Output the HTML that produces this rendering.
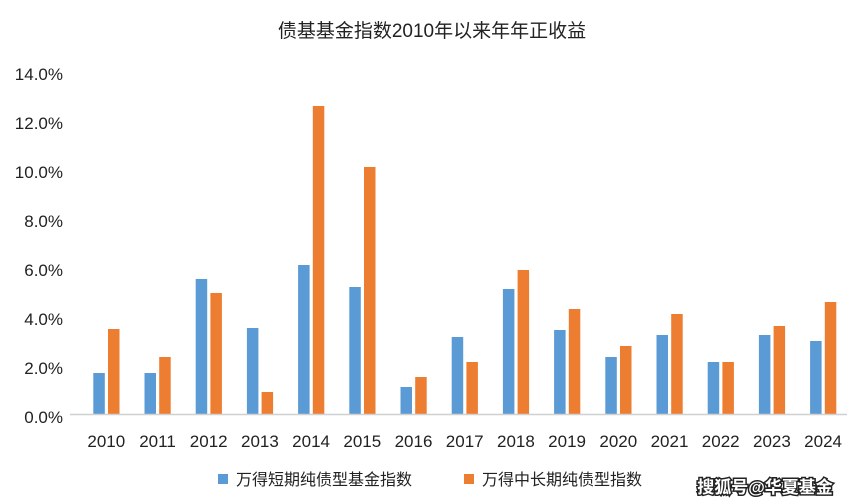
<!DOCTYPE html><html><head><meta charset="utf-8"><style>body{margin:0;background:#fff}svg{display:block}text{font-family:"Liberation Sans","Noto Sans CJK SC",sans-serif}</style></head><body>
<svg width="852" height="504" xmlns="http://www.w3.org/2000/svg">
<text x="432" y="37" font-size="19" text-anchor="middle" fill="#222">债基基金指数2010年以来年年正收益</text>
<g font-size="17" fill="#222" text-anchor="end">
<text x="63" y="80">14.0%</text><text x="63" y="129">12.0%</text><text x="63" y="178">10.0%</text><text x="63" y="227">8.0%</text><text x="63" y="276">6.0%</text><text x="63" y="325">4.0%</text><text x="63" y="374">2.0%</text><text x="63" y="423">0.0%</text>
</g>
<g fill="#5B9BD5">
<rect x="93.3" y="373" width="11.5" height="41"/>
<rect x="144.5" y="373" width="11.5" height="41"/>
<rect x="195.7" y="279" width="11.5" height="135"/>
<rect x="246.9" y="328" width="11.5" height="86"/>
<rect x="298.1" y="265" width="11.5" height="149"/>
<rect x="349.3" y="287" width="11.5" height="127"/>
<rect x="400.5" y="387" width="11.5" height="27"/>
<rect x="451.7" y="337" width="11.5" height="77"/>
<rect x="502.9" y="289" width="11.5" height="125"/>
<rect x="554.1" y="330" width="11.5" height="84"/>
<rect x="605.3" y="357" width="11.5" height="57"/>
<rect x="656.5" y="335" width="11.5" height="79"/>
<rect x="707.7" y="362" width="11.5" height="52"/>
<rect x="758.9" y="335" width="11.5" height="79"/>
<rect x="810.1" y="341" width="11.5" height="73"/>
</g>
<g fill="#ED7D31">
<rect x="108.0" y="329" width="11.5" height="85"/>
<rect x="159.2" y="357" width="11.5" height="57"/>
<rect x="210.4" y="293" width="11.5" height="121"/>
<rect x="261.6" y="392" width="11.5" height="22"/>
<rect x="312.8" y="106" width="11.5" height="308"/>
<rect x="364.0" y="167" width="11.5" height="247"/>
<rect x="415.2" y="377" width="11.5" height="37"/>
<rect x="466.4" y="362" width="11.5" height="52"/>
<rect x="517.6" y="270" width="11.5" height="144"/>
<rect x="568.8" y="309" width="11.5" height="105"/>
<rect x="620.0" y="346" width="11.5" height="68"/>
<rect x="671.2" y="314" width="11.5" height="100"/>
<rect x="722.4" y="362" width="11.5" height="52"/>
<rect x="773.6" y="326" width="11.5" height="88"/>
<rect x="824.8" y="302" width="11.5" height="112"/>
</g>
<line x1="70" y1="414.5" x2="847" y2="414.5" stroke="#d0d0d0" stroke-width="1.5"/>
<g font-size="17" fill="#222" text-anchor="middle">
<text x="106.3" y="447">2010</text><text x="157.5" y="447">2011</text><text x="208.7" y="447">2012</text><text x="259.9" y="447">2013</text><text x="311.1" y="447">2014</text><text x="362.3" y="447">2015</text><text x="413.5" y="447">2016</text><text x="464.7" y="447">2017</text><text x="515.9" y="447">2018</text><text x="567.1" y="447">2019</text><text x="618.3" y="447">2020</text><text x="669.5" y="447">2021</text><text x="720.7" y="447">2022</text><text x="771.9" y="447">2023</text><text x="823.1" y="447">2024</text>
</g>
<rect x="218" y="474" width="10" height="10" fill="#5B9BD5"/>
<text x="236" y="485" font-size="16" fill="#222">万得短期纯债型基金指数</text>
<rect x="464" y="474" width="10" height="10" fill="#ED7D31"/>
<text x="482" y="485" font-size="16" fill="#222">万得中长期纯债型指数</text>
<text x="765" y="493" font-size="17" text-anchor="middle" fill="#fff" stroke="#222" stroke-width="3" paint-order="stroke" font-weight="bold">搜狐号@华夏基金</text>
</svg></body></html>
